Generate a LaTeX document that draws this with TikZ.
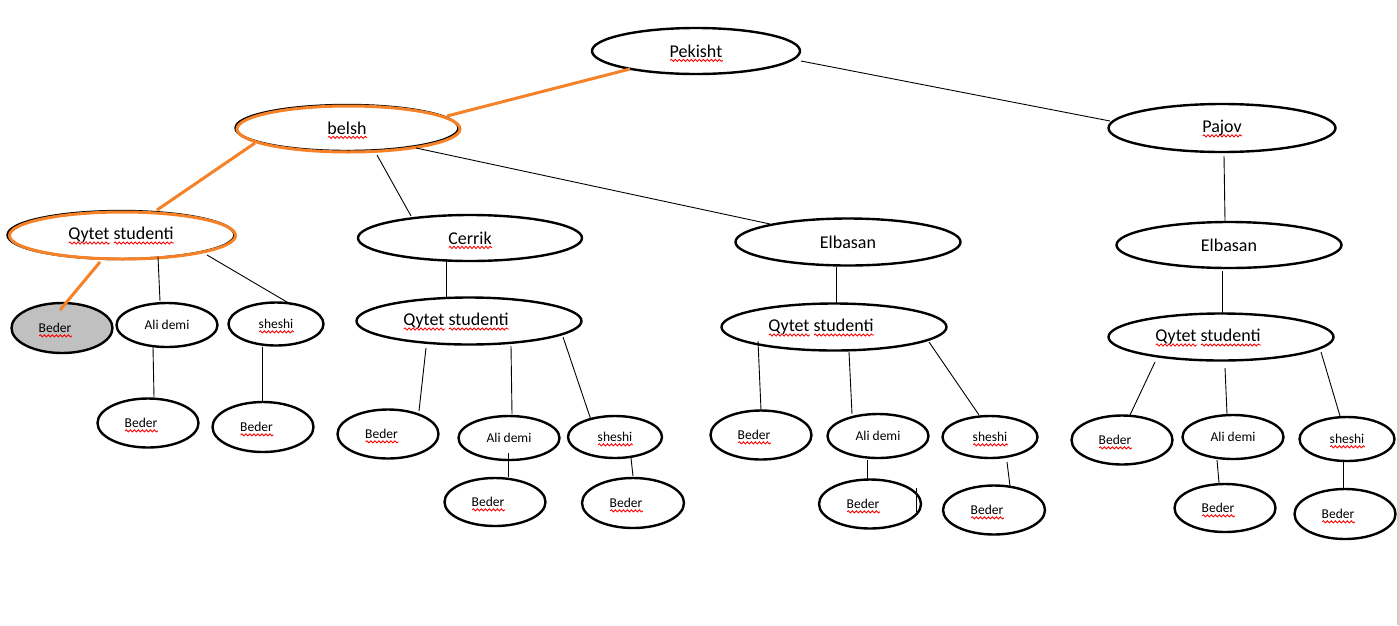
\documentclass[tikz,border=0pt]{standalone}
\usepackage{fontspec}
\setmainfont{Carlito}
\usetikzlibrary{shapes.geometric,decorations.pathmorphing,calc}
\definecolor{orng}{RGB}{245,130,40}
\definecolor{grayfill}{RGB}{192,192,192}
\definecolor{edgegray}{RGB}{205,205,205}
\newsavebox\sqbox
\newcommand\sqw[1]{\sbox\sqbox{#1}\makebox[0pt][l]{\smash{\tikz[x=1pt,y=1pt,baseline=0pt]{\draw[red,line width=0.85pt,decorate,decoration={snake,amplitude=1.1pt,segment length=4pt}] (0pt,-3.2pt) -- (\wd\sqbox,-3.2pt);}}}\usebox\sqbox}
\tikzset{
  bigell/.style={ellipse, draw, fill=white, line width=2.4pt, inner sep=0pt, font=\fontsize{18}{20}\selectfont},
  smallell/.style={ellipse, draw, fill=white, line width=2.4pt, inner sep=0pt, font=\fontsize{13.5}{15}\selectfont},
  link/.style={line width=0.9pt},
  olink/.style={draw=orng, line width=3pt},
  oring/.style={draw=orng, line width=3pt},
}
\begin{document}
\begin{tikzpicture}[x=1pt,y=-1pt]
\fill[white] (0,0) rectangle (1399,625);
\useasboundingbox (0,0) rectangle (1399,625);
\draw[edgegray, line width=2pt] (1397.5,0) -- (1397.5,625);

% top levels
\node[bigell, minimum width=208, minimum height=46] (pek) at (696,51) {\sqw{Pekisht}};
\node[bigell, minimum width=223, minimum height=46] (belsh) at (347,128) {\sqw{belsh}};
\node[bigell, minimum width=227, minimum height=48] (pajov) at (1222,128) {\sqw{Pajov}};
\node[bigell, minimum width=227, minimum height=48] (q1) at (121,235) {\sqw{Qytet} \sqw{studenti}};
\node[bigell, minimum width=224, minimum height=46] (cer) at (470,238) {\sqw{Cerrik}};
\node[bigell, minimum width=225, minimum height=47] (elb1) at (848,242) {Elbasan};
\node[bigell, minimum width=225, minimum height=46] (elb2) at (1229,245) {Elbasan};
\node[bigell, minimum width=225, minimum height=47] (q2) at (469,321) {\sqw{Qytet} \sqw{studenti}\hspace*{26pt}};
\node[bigell, minimum width=225, minimum height=47] (q3) at (834,327) {\sqw{Qytet} \sqw{studenti}\hspace*{26pt}};
\node[bigell, minimum width=225, minimum height=47] (q4) at (1221,337) {\sqw{Qytet} \sqw{studenti}\hspace*{26pt}};

% orange highlight rings
\draw[oring] ($(belsh.center)+(1.5,1)$) ellipse [x radius=111.5pt, y radius=23pt];
\draw[oring] ($(q1.center)+(1.5,0.5)$) ellipse [x radius=113pt, y radius=23.5pt];

% left group
\node[smallell, fill=grayfill, minimum width=101, minimum height=50] (bg) at (62,328) {\sqw{Beder}\hspace*{14pt}};
\node[smallell, minimum width=101, minimum height=44] (a1) at (167,325) {Ali demi};
\node[smallell, minimum width=95, minimum height=43] (s1) at (276,324) {\sqw{sheshi}};
\node[smallell, minimum width=101, minimum height=49] (b1) at (148,423) {\sqw{Beder}\hspace*{14pt}};
\node[smallell, minimum width=101, minimum height=50] (b2) at (263,427) {\sqw{Beder}\hspace*{13pt}};

% Cerrik group
\node[smallell, minimum width=101, minimum height=49] (cb) at (388,434) {\sqw{Beder}\hspace*{13pt}};
\node[smallell, minimum width=101, minimum height=44] (ca) at (509,438) {Ali demi};
\node[smallell, minimum width=94, minimum height=42] (cs) at (615,437) {\sqw{sheshi}};
\node[smallell, minimum width=101, minimum height=48] (cb2) at (495,502) {\sqw{Beder}\hspace*{14pt}};
\node[smallell, minimum width=102, minimum height=50] (cb3) at (633,503) {\sqw{Beder}\hspace*{14pt}};

% Elbasan group
\node[smallell, minimum width=101, minimum height=49] (eb) at (761,435) {\sqw{Beder}\hspace*{14pt}};
\node[smallell, minimum width=101, minimum height=44] (ea) at (878,436) {Ali demi};
\node[smallell, minimum width=95, minimum height=42] (es) at (990,437) {\sqw{sheshi}};
\node[smallell, minimum width=102, minimum height=49] (eb2) at (870,504) {\sqw{Beder}\hspace*{14pt}};
\node[smallell, minimum width=102, minimum height=49] (eb3) at (994,510) {\sqw{Beder}\hspace*{14pt}};

% right group
\node[smallell, minimum width=101, minimum height=49] (rb) at (1122,440) {\sqw{Beder}\hspace*{14pt}};
\node[smallell, minimum width=101, minimum height=44] (ra) at (1233,437) {Ali demi};
\node[smallell, minimum width=95, minimum height=44] (rs) at (1347,439) {\sqw{sheshi}};
\node[smallell, minimum width=101, minimum height=48] (rb2) at (1225,508) {\sqw{Beder}\hspace*{14pt}};
\node[smallell, minimum width=101, minimum height=50] (rb3) at (1345,514) {\sqw{Beder}\hspace*{14pt}};

% connectors
\draw[olink] ($(pek.center)+(-66,18)$) -- ($(belsh.center)+(100,-12)$);
\draw[link] ($(pek.center)+(105,10)$) -- ($(pajov.center)+(-112,-7)$);
\draw[olink] ($(belsh.center)+(-92,15)$) -- ($(q1.center)+(36,-25)$);
\draw[link] ($(belsh.center)+(30,27)$) -- ($(cer.center)+(-59,-22)$);
\draw[link] ($(belsh.center)+(69,20)$) -- ($(elb1.center)+(-78,-18)$);
\draw[link] ($(pajov.center)+(2,28)$) -- ($(elb2.center)+(-4,-24)$);
\draw[link] ($(cer.center)+(-24,21)$) -- ($(q2.center)+(-23,-24)$);
\draw[link] ($(elb1.center)+(-12,25)$) -- ($(q3.center)+(2,-24)$);
\draw[link] ($(elb2.center)+(-7,26)$) -- ($(q4.center)+(1,-24)$);

\draw[olink] ($(q1.center)+(-21,27)$) -- ($(bg.center)+(-2,-18)$);
\draw[link] ($(q1.center)+(37,22)$) -- ($(a1.center)+(-7,-24)$);
\draw[link] ($(q1.center)+(86,20)$) -- ($(s1.center)+(16,-19)$);
\draw[link] ($(a1.center)+(-14,22)$) -- ($(b1.center)+(6,-26)$);
\draw[link] ($(s1.center)+(-14,23)$) -- ($(b2.center)+(-1,-26)$);

\draw[link] ($(q2.center)+(-43,27)$) -- ($(cb.center)+(31,-23)$);
\draw[link] ($(q2.center)+(42,25)$) -- ($(ca.center)+(3,-24)$);
\draw[link] ($(q2.center)+(94,16)$) -- ($(cs.center)+(-24,-17)$);
\draw[link] ($(ca.center)+(-1,15)$) -- ($(cb2.center)+(13,-25)$);
\draw[link] ($(cs.center)+(16,21)$) -- ($(cb3.center)+(0,-27)$);

\draw[link] ($(q3.center)+(-76,14)$) -- ($(eb.center)+(0,-25)$);
\draw[link] ($(q3.center)+(15,25)$) -- ($(ea.center)+(-26,-22)$);
\draw[link] ($(q3.center)+(95,15)$) -- ($(es.center)+(-11,-22)$);
\draw[link] ($(ea.center)+(-11,24)$) -- ($(eb2.center)+(-3,-25)$);
\draw[link] ($(es.center)+(17,25)$) -- ($(eb3.center)+(16,-24)$);
\draw[link] ($(eb2.center)+(46,-16)$) -- ($(eb2.center)+(46,8)$);

\draw[link] ($(q4.center)+(-66,25)$) -- ($(rb.center)+(8,-25)$);
\draw[link] ($(q4.center)+(4,31)$) -- ($(ra.center)+(-6,-23)$);
\draw[link] ($(q4.center)+(100,15)$) -- ($(rs.center)+(-7,-23)$);
\draw[link] ($(ra.center)+(-16,23)$) -- ($(rb2.center)+(-6,-25)$);
\draw[link] ($(rs.center)+(-4,22)$) -- ($(rb3.center)+(-2,-26)$);
\end{tikzpicture}
\end{document}
